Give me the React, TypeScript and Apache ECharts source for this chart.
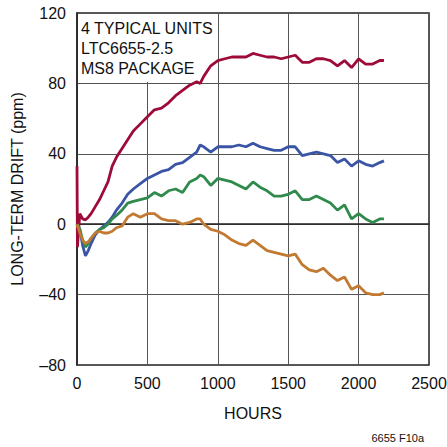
import React, { useEffect, useRef } from "react";
import * as echarts from "echarts";

const hours = [0, 20, 40, 60, 80, 100, 130, 160, 190, 220, 250, 280, 320, 360, 400, 450, 500, 550, 600, 650, 700, 750, 800, 850, 875, 900, 950, 1000, 1050, 1100, 1150, 1200, 1250, 1300, 1350, 1400, 1450, 1500, 1550, 1600, 1650, 1700, 1750, 1800, 1850, 1900, 1950, 2000, 2050, 2100, 2150, 2180];

const redHours = [0, 3, ...hours.slice(1)];
const redDrift = [33, -13, 6, 3, 2.5, 4, 6, 10, 14, 19, 24, 33, 38, 43, 48, 53, 57, 61, 65, 66, 69, 73, 76, 79, 81, 80, 84, 90, 93, 94, 95, 95, 95, 97, 96, 95, 95, 94, 95, 96, 92, 92, 94, 94, 93, 90, 93, 89, 94, 91, 91, 93, 93];
const blueDrift = [0, -3, -12, -18, -15, -11, -6, -3, -1, 1, 4, 8, 12, 17, 20, 23, 26, 28, 30, 31, 34, 35, 38, 41, 45, 44, 41, 44, 44, 44, 45, 44, 46, 44, 43, 42, 42, 44, 44, 39, 40, 41, 40, 39, 35, 37, 33, 36, 34, 33, 35, 36];
const greenDrift = [0, -3, -9, -13, -11, -8, -5, -3, -2, 0, 3, 5, 8, 12, 13, 14, 15, 18, 16, 19, 20, 18, 24, 26, 28, 27, 22, 26, 25, 24, 22, 20, 24, 21, 19, 16, 16, 17, 19, 14, 14, 16, 14, 12, 8, 11, 3, 6, 3, 1, 3, 3];
const orangeDrift = [0, -5, -9, -11, -10, -8, -5, -4, -5, -5, -4, -2, -1, 4, 6, 4, 6, 6, 3, 2, 2, 0, 1, 3, 3, 0, -3, -4, -6, -9, -11, -12, -9, -12, -15, -16, -17, -18, -17, -23, -26, -27, -25, -29, -32, -30, -37, -35, -39, -40, -40, -39];

const xTicks = { min: 0, max: 2500, interval: 500 };
const yTicks = { min: -80, max: 120, interval: 40 };
const noteLines = ["4 TYPICAL UNITS", "LTC6655-2.5", "MS8 PACKAGE"];

const FONT = "'Liberation Sans', Arial, Helvetica, sans-serif";

function pairs(xs: number[], ys: number[]) {
  return ys.map((y, i) => [xs[i], y]);
}

export default function App() {
  const ref = useRef<HTMLDivElement>(null);
  useEffect(() => {
    const chart = echarts.init(ref.current!, null, { renderer: "svg" });
    const lineSeries = (name: string, data: number[][], color: string) => ({
      name,
      type: "line",
      data,
      showSymbol: false,
      symbol: "none",
      z: 3,
      lineStyle: { color, width: 2.8 },
    });
    chart.setOption({
      animation: false,
      backgroundColor: "#fff",
      textStyle: { fontFamily: FONT },
      grid: {
        left: 77, top: 13, width: 352, height: 352,
        outerBoundsMode: "none", containLabel: false,
        show: true, borderColor: "#222", borderWidth: 1.5, backgroundColor: "transparent",
      },
      xAxis: {
        type: "value",
        ...xTicks,
        name: "HOURS",
        nameLocation: "middle",
        nameGap: 40,
        nameTextStyle: { fontSize: 16, color: "#111", fontFamily: FONT },
        axisLine: { show: true, lineStyle: { color: "#222", width: 1.5 } },
        axisTick: { show: false },
        axisLabel: { fontSize: 16, color: "#111", margin: 10, fontFamily: FONT, formatter: (v: number) => String(v) },
        splitLine: { show: true, lineStyle: { color: "#555", width: 1 } },
      },
      yAxis: {
        type: "value",
        ...yTicks,
        name: "LONG-TERM DRIFT (ppm)",
        nameLocation: "middle",
        nameGap: 52,
        nameTextStyle: { fontSize: 16, color: "#111", fontFamily: FONT },
        axisLine: { show: true, lineStyle: { color: "#222", width: 1.5 } },
        axisTick: { show: false },
        axisLabel: {
          fontSize: 16,
          color: "#111",
          margin: 11,
          fontFamily: FONT,
          formatter: (v: number) => (v < 0 ? "\u2013" + Math.abs(v) : String(v)),
        },
        splitLine: { show: true, lineStyle: { color: "#555", width: 1 } },
      },
      graphic: [
        { type: "rect", left: 78, top: 14, shape: { width: 134, height: 68 }, style: { fill: "#fff" }, z: 1 },
        ...noteLines.map((t, i) => ({
          type: "text",
          left: 81,
          top: 20 + i * 20,
          z: 2,
          style: { text: t, fontSize: 16, fill: "#111", fontFamily: FONT },
        })),
        { type: "text", right: 23, top: 432, style: { text: "6655 F10a", fontSize: 11, fill: "#111", fontFamily: FONT } },
      ],
      series: [
        lineSeries("red", pairs(redHours, redDrift), "#9E0B38"),
        lineSeries("blue", pairs(hours, blueDrift), "#3A55A6"),
        lineSeries("green", pairs(hours, greenDrift), "#2F8A4C"),
        lineSeries("orange", pairs(hours, orangeDrift), "#C27A32"),
      ],
    });
    return () => chart.dispose();
  }, []);
  return <div ref={ref} style={{ position: "fixed", left: 0, top: 0, width: 447, height: 447 }} />;
}
